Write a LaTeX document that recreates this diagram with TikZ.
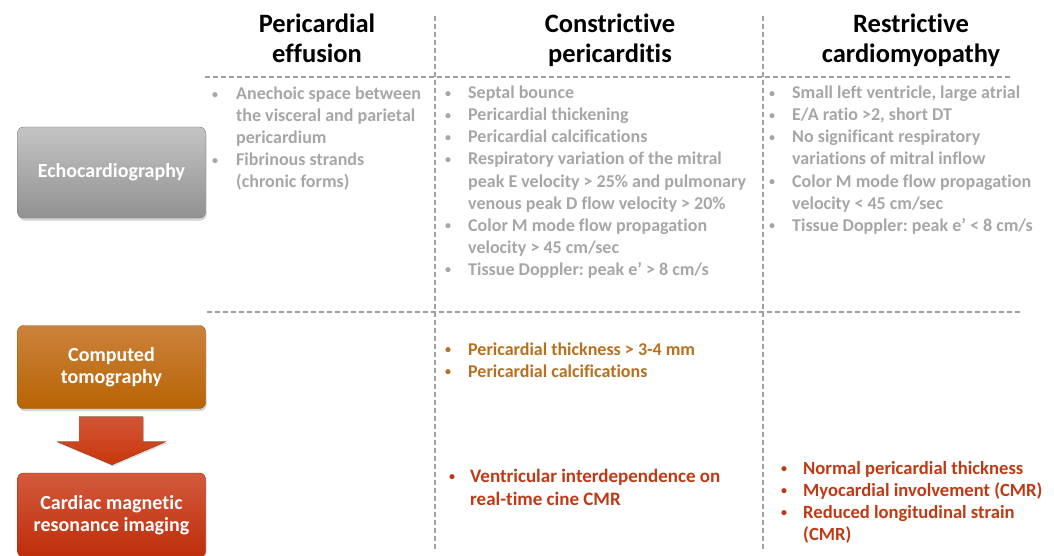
\documentclass[tikz,border=0pt]{standalone}
\usepackage{fontspec}
\setmainfont{Carlito}[Ligatures={NoCommon}]
\frenchspacing
\usetikzlibrary{shadows,calc}
\definecolor{gtext}{RGB}{166,166,166}
\definecolor{dline}{RGB}{160,160,160}
\definecolor{cttext}{RGB}{184,112,30}
\definecolor{mrtext}{RGB}{192,57,21}
\definecolor{echoT}{RGB}{196,196,196}
\definecolor{echoB}{RGB}{145,145,145}
\definecolor{ctT}{RGB}{204,130,60}
\definecolor{ctB}{RGB}{184,100,4}
\definecolor{mrT}{RGB}{210,90,60}
\definecolor{mrB}{RGB}{190,45,10}
\definecolor{arT}{RGB}{210,85,55}
\definecolor{arB}{RGB}{200,55,10}
\newcommand{\bul}{\raisebox{1.6pt}{\fontsize{12}{12}\selectfont\textbullet}}
\begin{document}
\begin{tikzpicture}[x=1pt,y=-1pt,
  dashline/.style={draw=dline,line width=1.7pt,dash pattern=on 5pt off 3pt},
  head/.style={font=\fontsize{26.5}{30}\selectfont\bfseries,anchor=base,inner sep=0pt},
  gtxt/.style={font=\fontsize{18}{22}\selectfont\bfseries,text=gtext,anchor=base west,inner sep=0pt},
  ctxt/.style={gtxt,text=cttext},
  mtxt/.style={gtxt,font=\fontsize{19}{22}\selectfont\bfseries,text=mrtext},
  ntxt/.style={gtxt,font=\fontsize{18.6}{22}\selectfont\bfseries,text=mrtext},
  box/.style={rounded corners=6pt,minimum width=188pt,align=center,inner sep=0pt,
    font=\fontsize{20}{22}\selectfont\bfseries,text=white,
    drop shadow={opacity=0.35,shadow xshift=1pt,shadow yshift=-2.5pt}}]
\useasboundingbox (0,0) rectangle (1054,556);

% grid lines
\coordinate (v1t) at (435,16);  \coordinate (v1b) at (435,550);
\coordinate (v2t) at (763,16);  \coordinate (v2b) at (763,550);
\coordinate (h1l) at (205,77);  \coordinate (h1r) at (1010,77);
\coordinate (h2l) at (207,312); \coordinate (h2r) at (1023,312);
\draw[dashline] (v1t) -- (v1b);
\draw[dashline] (v2t) -- (v2b);
\draw[dashline] (h1l) -- (h1r);
\draw[dashline] (h2l) -- (h2r);

% headings
\node[head] (hd1a) at (317,33) {Pericardial};
\node[head] (hd1b) at (317,63) {effusion};
\node[head] (hd2a) at (610,33) {Constrictive};
\node[head] (hd2b) at (610,63) {pericarditis};
\node[head] (hd3a) at (911,33) {Restrictive};
\node[head] (hd3b) at (911,63) {cardiomyopathy};

% left boxes
\node[box,minimum height=91pt,top color=echoT,bottom color=echoB,draw=echoB!85!black] (echo) at (111.5,172.5) {Echocardiography};
\node[box,minimum height=83pt,top color=ctT,bottom color=ctB,draw=ctB!85!black] (ct) at (111.5,367) {Computed\\tomography};
\node[box,minimum height=84pt,top color=mrT,bottom color=mrB,draw=mrB!85!black] (mr) at (111.5,515) {Cardiac magnetic\\resonance imaging};

% block arrow CT -> CMR
\fill[top color=arT,bottom color=arB,drop shadow={opacity=0.3,shadow xshift=1pt,shadow yshift=-1.5pt}]
  ($(ct.south)+(-32.5,8)$) -- ($(ct.south)+(31.5,8)$) -- ($(ct.south)+(31.5,33)$) --
  ($(ct.south)+(54.5,33)$) -- ($(mr.north)+(0.5,-8)$) -- ($(ct.south)+(-54.5,33)$) --
  ($(ct.south)+(-32.5,33)$) -- cycle;

% column 1, echo
\node[gtxt] (b1a) at (212,100) {\bul};
\node[gtxt] (t1a) at (236,100) {Anechoic space between};
\node[gtxt] (t1b) at (236,122) {the visceral and parietal};
\node[gtxt] (t1c) at (236,144) {pericardium};
\node[gtxt] (b1d) at (212,166) {\bul};
\node[gtxt] (t1d) at (236,166) {Fibrinous strands};
\node[gtxt] (t1e) at (236,188) {(chronic forms)};

% column 2, echo
\node[gtxt] (b2a) at (445,99) {\bul};
\node[gtxt] (t2a) at (468,99) {Septal bounce};
\node[gtxt] (b2b) at (445,121) {\bul};
\node[gtxt] (t2b) at (468,121) {Pericardial thickening};
\node[gtxt] (b2c) at (445,143) {\bul};
\node[gtxt] (t2c) at (468,143) {Pericardial calcifications};
\node[gtxt] (b2d) at (445,165) {\bul};
\node[gtxt] (t2d) at (468,165) {Respiratory variation of the mitral};
\node[gtxt] (t2e) at (468,187) {peak E velocity > 25\% and pulmonary};
\node[gtxt] (t2f) at (468,209) {venous peak D flow velocity > 20\%};
\node[gtxt] (b2g) at (445,231) {\bul};
\node[gtxt] (t2g) at (468,231) {Color M mode flow propagation};
\node[gtxt] (t2h) at (468,253) {velocity > 45 cm/sec};
\node[gtxt] (b2i) at (445,275) {\bul};
\node[gtxt] (t2i) at (468,275) {Tissue Doppler: peak e’ > 8 cm/s};

% column 3, echo
\node[gtxt] (b3a) at (769,99) {\bul};
\node[gtxt] (t3a) at (792,99) {Small left ventricle, large atrial};
\node[gtxt] (b3b) at (769,121) {\bul};
\node[gtxt] (t3b) at (792,121) {E/A ratio >2, short DT};
\node[gtxt] (b3c) at (769,143) {\bul};
\node[gtxt] (t3c) at (792,143) {No significant respiratory};
\node[gtxt] (t3d) at (792,165) {variations of mitral inflow};
\node[gtxt] (b3e) at (769,187) {\bul};
\node[gtxt] (t3e) at (792,187) {Color M mode flow propagation};
\node[gtxt] (t3f) at (792,209) {velocity < 45 cm/sec};
\node[gtxt] (b3g) at (769,231) {\bul};
\node[gtxt] (t3g) at (792,231) {Tissue Doppler: peak e’ < 8 cm/s};

% CT row
\node[ctxt] (cb1) at (445,355) {\bul};
\node[ctxt] (ct1) at (468,355) {Pericardial thickness > 3-4 mm};
\node[ctxt] (cb2) at (445,377) {\bul};
\node[ctxt] (ct2) at (468,377) {Pericardial calcifications};

% CMR row
\node[mtxt] (mb1) at (449,482) {\bul};
\node[mtxt] (mt1) at (470,482) {Ventricular interdependence on};
\node[mtxt] (mt2) at (470,505) {real-time cine CMR};
\node[ntxt] (nb1) at (781,474) {\bul};
\node[ntxt] (nt1) at (803,474) {Normal pericardial thickness};
\node[ntxt] (nb2) at (781,496) {\bul};
\node[ntxt] (nt2) at (803,496) {Myocardial involvement (CMR)};
\node[ntxt] (nb3) at (781,518) {\bul};
\node[ntxt] (nt3) at (803,518) {Reduced longitudinal strain};
\node[ntxt] (nt4) at (803,540) {(CMR)};
\end{tikzpicture}
\end{document}
